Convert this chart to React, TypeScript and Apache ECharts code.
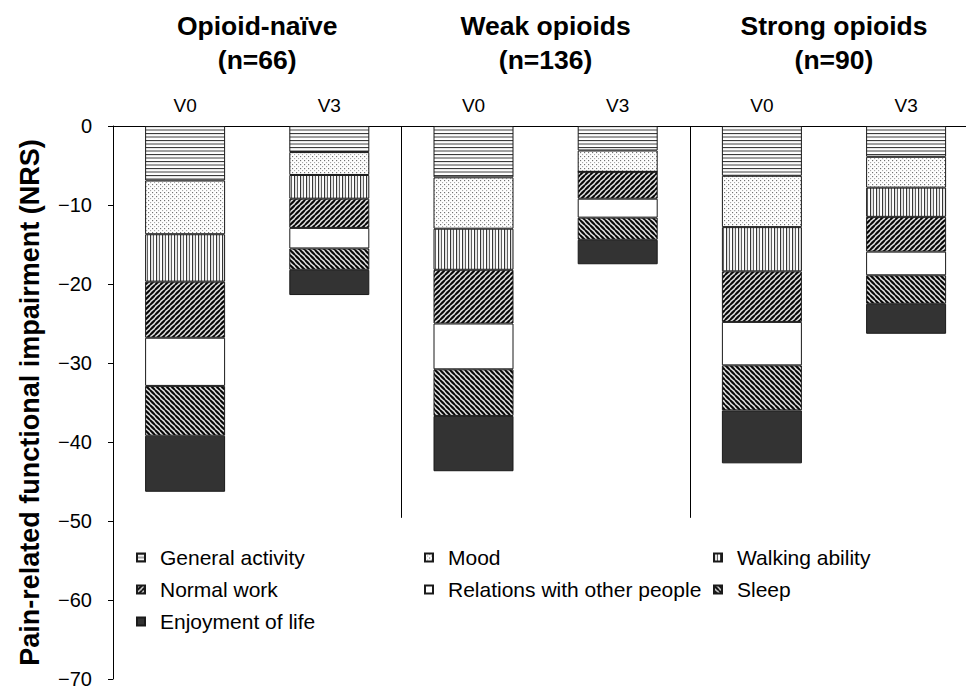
import React, { useEffect, useRef } from 'react';
import * as echarts from 'echarts';

const FONT = '"Liberation Sans", Arial, Helvetica, sans-serif';

const visits = ['V0', 'V3', 'V0', 'V3', 'V0', 'V3'];
const groups = ['Opioid-naïve\n(n=66)', 'Weak opioids\n(n=136)', 'Strong opioids\n(n=90)'];
const domains = [
  'General activity',
  'Mood',
  'Walking ability',
  'Normal work',
  'Relations with other people',
  'Sleep',
  'Enjoyment of life',
];

const generalActivity = [-6.9, -3.3, -6.5, -3.1, -6.3, -3.9];
const mood = [-6.8, -2.9, -6.5, -2.7, -6.5, -3.9];
const walkingAbility = [-6.0, -3.0, -5.2, 0, -5.6, -3.7];
const normalWork = [-7.1, -3.7, -6.8, -3.4, -6.4, -4.4];
const relations = [-6.1, -2.6, -5.8, -2.4, -5.5, -3.0];
const sleep = [-6.3, -2.7, -5.9, -2.8, -5.7, -3.6];
const enjoyment = [-7.1, -3.2, -7.0, -3.1, -6.7, -3.8];

const yMin = -70;
const yMax = 0;
const yStep = 10;
const separatorDepth = -49.6;

const legendColumns = [
  ['General activity', 'Normal work', 'Enjoyment of life'],
  ['Mood', 'Relations with other people'],
  ['Walking ability', 'Sleep'],
];

function tile(w: number, h: number, draw: (ctx: CanvasRenderingContext2D) => void) {
  const s = 3;
  const c = document.createElement('canvas');
  c.width = w * s;
  c.height = h * s;
  const ctx = c.getContext('2d')!;
  ctx.scale(s, s);
  ctx.fillStyle = '#ffffff';
  ctx.fillRect(0, 0, w, h);
  draw(ctx);
  return { image: c.toDataURL(), repeat: 'repeat', imageWidth: w, imageHeight: h };
}

function diag(forward: boolean) {
  const p = 5;
  return tile(p, p, (ctx) => {
    ctx.strokeStyle = '#000';
    ctx.lineWidth = 2.1;
    for (const x of [-p, 0, p]) {
      ctx.beginPath();
      if (forward) {
        ctx.moveTo(x - 1, p + 1);
        ctx.lineTo(x + p + 1, -1);
      } else {
        ctx.moveTo(x - 1, -1);
        ctx.lineTo(x + p + 1, p + 1);
      }
      ctx.stroke();
    }
  });
}

export default function App() {
  const ref = useRef<HTMLDivElement>(null);
  useEffect(() => {
    if (!ref.current) return;
    const chart = echarts.init(ref.current, null, { renderer: 'svg' });

    const fills: any[] = [
      tile(8, 7, (ctx) => {
        ctx.fillStyle = '#111';
        ctx.fillRect(0, 0, 8, 1);
        ctx.fillStyle = '#444';
        ctx.fillRect(0, 3.5, 8, 1);
      }),
      tile(4, 4, (ctx) => {
        ctx.fillStyle = '#444';
        ctx.fillRect(0, 0, 1, 1);
        ctx.fillStyle = '#888';
        ctx.fillRect(2, 2, 1, 1);
      }),
      tile(6, 4, (ctx) => {
        ctx.fillStyle = '#111';
        ctx.fillRect(0, 0, 1, 4);
        ctx.fillStyle = '#444';
        ctx.fillRect(3, 0, 1, 4);
      }),
      diag(true),
      '#ffffff',
      diag(false),
      '#333333',
    ];
    const values = [generalActivity, mood, walkingAbility, normalWork, relations, sleep, enjoyment];

    const gridLeft = 113;
    const gridTop = 126;
    const gridHeight = 554;
    const catW = 144.2;

    const separators = [];
    for (let i = 2; i < visits.length; i += 2) {
      separators.push({ coords: [[i, 0], [i, separatorDepth]] });
    }

    const option: any = {
      animation: false,
      textStyle: { fontFamily: FONT },
      grid: { left: gridLeft, top: gridTop, width: catW * visits.length, height: gridHeight },
      xAxis: [
        {
          type: 'category',
          data: visits,
          position: 'top',
          axisLine: { show: true, onZero: false, lineStyle: { color: '#000', width: 1 } },
          axisTick: { show: false },
          axisLabel: { fontSize: 19, color: '#000', margin: 11, fontFamily: FONT },
        },
        { type: 'value', min: 0, max: visits.length, position: 'bottom', show: false },
      ],
      yAxis: {
        type: 'value',
        min: yMin,
        max: yMax,
        interval: yStep,
        axisLine: { show: true, lineStyle: { color: '#000', width: 1 } },
        axisTick: { show: true, length: 5, lineStyle: { color: '#000' } },
        axisLabel: {
          fontSize: 20,
          color: '#000',
          margin: 21,
          fontFamily: FONT,
          formatter: (v: number) => String(v).replace('-', '\u2212'),
        },
        splitLine: { show: false },
        name: 'Pain-related functional impairment (NRS)',
        nameLocation: 'middle',
        nameGap: 70,
        nameTextStyle: { fontSize: 27, fontWeight: 'bold', color: '#000', fontFamily: FONT },
      },
      legend: legendColumns.map((col, i) => ({
        data: col,
        orient: 'vertical',
        left: [136, 424, 713][i],
        top: 547,
        padding: 0,
        itemWidth: 8,
        itemHeight: 8,
        itemGap: 11,
        icon: 'rect',
        selectedMode: false,
        textStyle: {
          fontSize: 21,
          color: '#000',
          fontFamily: FONT,
          lineHeight: 20,
          padding: [0, 0, 0, 10],
        },
      })),
      series: [
        ...domains.map((name, i) => ({
          name,
          type: 'bar',
          stack: 'total',
          barWidth: 80,
          data: values[i],
          itemStyle: { color: fills[i], borderColor: '#1a1a1a', borderWidth: 1 },
          emphasis: { disabled: true },
        })),
        {
          type: 'lines',
          coordinateSystem: 'cartesian2d',
          xAxisIndex: 1,
          yAxisIndex: 0,
          silent: true,
          data: separators,
          lineStyle: { color: '#000', width: 1, opacity: 1 },
        },
      ],
      graphic: groups.map((g, i) => ({
        type: 'text',
        x: gridLeft + catW * (2 * i + 1),
        y: 9,
        silent: true,
        style: {
          text: g,
          fontFamily: FONT,
          fontSize: 26.5,
          fontWeight: 'bold',
          lineHeight: 34,
          fill: '#000',
          textAlign: 'center',
          textVerticalAlign: 'top',
        },
      })),
    };
    chart.setOption(option);
    return () => chart.dispose();
  }, []);
  return (
    <div
      style={{
        position: 'absolute',
        left: 0,
        top: 0,
        width: 966,
        height: 689,
        overflow: 'hidden',
      }}
    >
      <div ref={ref} style={{ width: 1000, height: 689 }} />
    </div>
  );
}
